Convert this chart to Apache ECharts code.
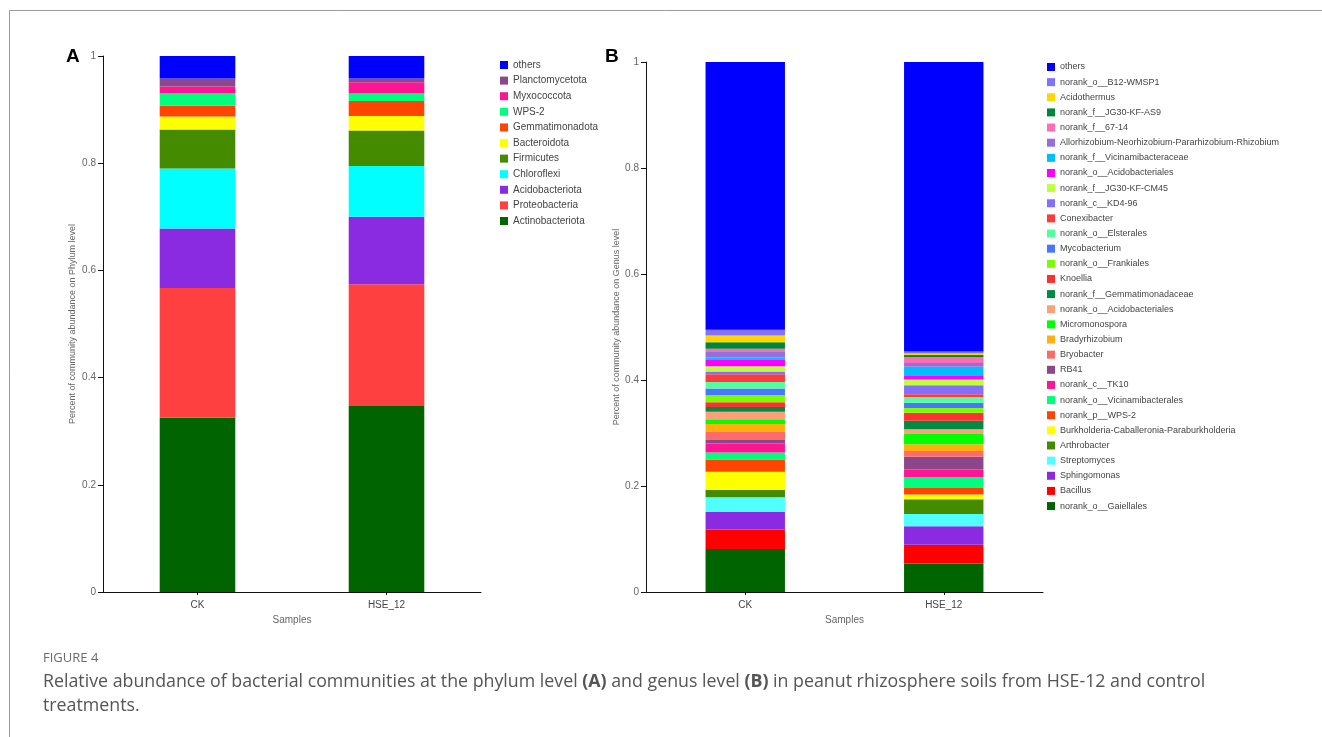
<!DOCTYPE html>
<html><head><meta charset="utf-8">
<script src="https://cdn.jsdelivr.net/npm/echarts@6/dist/echarts.min.js"></script>
<style>html,body{margin:0;padding:0;background:#fff}#c{width:1322px;height:737px}</style>
</head><body><div id="c"></div>
<script>
const samples = ['CK', 'HSE_12'];

const phylumNames = ['Actinobacteriota','Proteobacteria','Acidobacteriota','Chloroflexi','Firmicutes','Bacteroidota','Gemmatimonadota','WPS-2','Myxococcota','Planctomycetota','others'];
const phylumCK  = [0.325,0.242,0.111,0.112,0.073,0.024,0.020,0.023,0.013,0.015,0.042];
const phylumHSE = [0.347,0.227,0.126,0.095,0.066,0.027,0.028,0.014,0.021,0.007,0.042];
const phylumColors = ['#006400','#FF4040','#8A2BE2','#00FFFF','#458B00','#FFFF00','#FF4500','#00FF7F','#FF1493','#8B4789','#0000FF'];

const genusNames = ['norank_o__Gaiellales','Bacillus','Sphingomonas','Streptomyces','Arthrobacter','Burkholderia-Caballeronia-Paraburkholderia','norank_p__WPS-2','norank_o__Vicinamibacterales','norank_c__TK10','RB41','Bryobacter','Bradyrhizobium','Micromonospora','norank_o__Acidobacteriales','norank_f__Gemmatimonadaceae','Knoellia','norank_o__Frankiales','Mycobacterium','norank_o__Elsterales','Conexibacter','norank_c__KD4-96','norank_f__JG30-KF-CM45','norank_o__Acidobacteriales\u200B','norank_f__Vicinamibacteraceae','Allorhizobium-Neorhizobium-Pararhizobium-Rhizobium','norank_f__67-14','norank_f__JG30-KF-AS9','Acidothermus','norank_o__B12-WMSP1','others'];
const genusCK  = [0.081,0.037,0.033,0.028,0.014,0.034,0.023,0.013,0.017,0.007,0.015,0.015,0.009,0.014,0.009,0.009,0.013,0.013,0.012,0.015,0.005,0.010,0.013,0.004,0.010,0.006,0.012,0.013,0.011,0.505];
const genusHSE = [0.054,0.035,0.035,0.023,0.028,0.009,0.012,0.021,0.014,0.024,0.011,0.013,0.019,0.009,0.016,0.015,0.009,0.010,0.011,0.005,0.017,0.011,0.008,0.016,0.007,0.011,0.004,0.003,0.004,0.546];
const genusColors = ['#006400','#FF0000','#8A2BE2','#50FFFF','#458B00','#FFFF00','#FF4500','#00FF7F','#FF1493','#8B4789','#FF6A6A','#FFB00F','#00FF00','#FFA07A','#008B45','#FF3030','#7CFC00','#4876FF','#54FF9F','#FF3A3A','#836FFF','#C0FF3E','#FF00FF','#00BFFF','#9370DB','#FF6EB4','#00853C','#FFD700','#8470FF','#0000FF'];

const yTicks = { min: 0, max: 1, interval: 0.2 };

const chart = echarts.init(document.getElementById('c'));
const FONT = 'Liberation Sans, Arial, sans-serif';

function yAxis(gridIndex, name, gap) {
  return {
    type: 'value', gridIndex, min: yTicks.min, max: yTicks.max, interval: yTicks.interval,
    name, nameLocation: 'middle', nameGap: gap, nameRotate: 90,
    nameTextStyle: { fontSize: 9, color: '#666', fontFamily: FONT },
    axisLine: { show: true, lineStyle: { color: '#111', width: 1 } },
    axisTick: { show: true, length: 5, lineStyle: { color: '#111' } },
    axisLabel: { fontSize: 10, color: '#666', margin: 7, fontFamily: FONT,
      formatter: v => (v === 0 ? '0' : v === 1 ? '1' : v.toFixed(1)) },
    splitLine: { show: false }
  };
}
function xAxis(gridIndex) {
  return {
    type: 'category', gridIndex, data: samples,
    name: 'Samples', nameLocation: 'middle', nameGap: 22,
    nameTextStyle: { fontSize: 10, color: '#666', fontFamily: FONT },
    axisLine: { lineStyle: { color: '#111', width: 1 } },
    axisTick: { show: true, alignWithLabel: true, length: 3, lineStyle: { color: '#111' } },
    axisLabel: { fontSize: 10, color: '#444', margin: 8, fontFamily: FONT }
  };
}

const series = [];
phylumNames.forEach((n, i) => series.push({
  type: 'bar', name: n, stack: 'A', xAxisIndex: 0, yAxisIndex: 0, barWidth: '40%',
  itemStyle: { color: phylumColors[i] }, data: [phylumCK[i], phylumHSE[i]]
}));
genusNames.forEach((n, i) => series.push({
  type: 'bar', name: n, stack: 'B', xAxisIndex: 1, yAxisIndex: 1, barWidth: '40%',
  itemStyle: { color: genusColors[i] }, data: [genusCK[i], genusHSE[i]]
}));

chart.setOption({
  animation: false,
  backgroundColor: '#fff',
  grid: [
    { left: 103, top: 56, width: 378, height: 536 },
    { left: 646, top: 62, width: 397, height: 530 }
  ],
  xAxis: [xAxis(0), xAxis(1)],
  yAxis: [yAxis(0, 'Percent of community abundance on Phylum level', 26), yAxis(1, 'Percent of community abundance on Genus level', 22)],
  legend: [
    { data: phylumNames.slice().reverse(), orient: 'vertical', left: 500, top: 60, icon: 'rect',
      itemWidth: 8, itemHeight: 8, itemGap: 5.6, padding: 0, selectedMode: false,
      textStyle: { fontSize: 10, color: '#444', fontFamily: FONT, lineHeight: 10 } },
    { data: genusNames.slice().reverse(), orient: 'vertical', left: 1047, top: 62, icon: 'rect',
      itemWidth: 8, itemHeight: 8, itemGap: 5.14, padding: 0, selectedMode: false,
      textStyle: { fontSize: 9, color: '#444', fontFamily: FONT, lineHeight: 10 } }
  ],
  series,
  graphic: [
    { type: 'line', shape: { x1: 9.5, y1: 10.5, x2: 1322, y2: 10.5 }, style: { stroke: '#9a9a9a', lineWidth: 1 } },
    { type: 'line', shape: { x1: 9.5, y1: 10.5, x2: 9.5, y2: 737 }, style: { stroke: '#9a9a9a', lineWidth: 1 } },
    { type: 'text', left: 66, top: 47, style: { text: 'A', font: 'bold 19px ' + FONT, fill: '#000' } },
    { type: 'text', left: 605, top: 47, style: { text: 'B', font: 'bold 19px ' + FONT, fill: '#000' } },
    { type: 'text', left: 43, top: 652, style: { text: 'FIGURE 4', font: '13px "Open Sans", sans-serif', fill: '#6b6b6b' } },
    { type: 'text', left: 43, top: 673, style: {
      text: '{n|Relative abundance of bacterial communities at the phylum level }{b|(A)}{n| and genus level }{b|(B)}{n| in peanut rhizosphere soils from HSE-12 and control}\n{n|treatments.}',
      rich: {
        n: { fontSize: 17.8, fontFamily: '"Open Sans", sans-serif', fill: '#555', lineHeight: 24 },
        b: { fontSize: 17.8, fontFamily: '"Open Sans", sans-serif', fontWeight: 'bold', fill: '#555', lineHeight: 24 }
      } } }
  ]
});
</script></body></html>
